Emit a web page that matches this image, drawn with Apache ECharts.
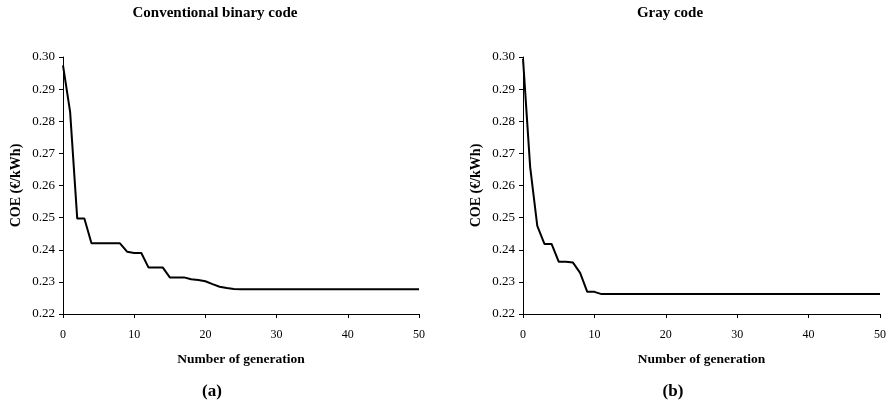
<!DOCTYPE html>
<html><head><meta charset="utf-8">
<script src="https://cdn.jsdelivr.net/npm/echarts@6/dist/echarts.min.js"></script>
<style>html,body{margin:0;padding:0;background:#fff}#c{width:889px;height:407px}</style>
</head><body><div id="c"></div>
<script>
var generations = [];
for (var g = 0; g <= 50; g++) generations.push(g);
var binaryCOE = [0.2974,0.2829,0.2497,0.2497,0.2420,0.2420,0.2420,0.2420,0.2420,0.2394,
  0.2390,0.2390,0.2345,0.2345,0.2345,0.2314,0.2314,0.2314,0.2308,0.2306,
  0.2302,0.2293,0.2285,0.2281,0.2278,0.2277,0.2277,0.2277,0.2277,0.2277,
  0.2277,0.2277,0.2277,0.2277,0.2277,0.2277,0.2277,0.2277,0.2277,0.2277,
  0.2277,0.2277,0.2277,0.2277,0.2277,0.2277,0.2277,0.2277,0.2277,0.2277,0.2277];
var grayCOE = [0.2995,0.2658,0.2474,0.2418,0.2418,0.2363,0.2363,0.2360,0.2328,0.2269,
  0.2269,0.2262,0.2262,0.2262,0.2262,0.2262,0.2262,0.2262,0.2262,0.2262,
  0.2262,0.2262,0.2262,0.2262,0.2262,0.2262,0.2262,0.2262,0.2262,0.2262,
  0.2262,0.2262,0.2262,0.2262,0.2262,0.2262,0.2262,0.2262,0.2262,0.2262,
  0.2262,0.2262,0.2262,0.2262,0.2262,0.2262,0.2262,0.2262,0.2262,0.2262,0.2262];
var chartTitles = ['Conventional binary code', 'Gray code'];
var subLabels = ['(a)', '(b)'];
var xName = 'Number of generation';
var yName = 'COE (\u20ac/kWh)';

var font = '"Liberation Serif","Times New Roman",serif';
function pairs(ys){ return generations.map(function(x,i){ return [x, ys[i]]; }); }
function xAxis(idx){
  return { type:'value', gridIndex:idx, min:0, max:50, interval:10,
    name:xName, nameLocation:'middle', nameGap:39,
    nameTextStyle:{fontFamily:font, fontWeight:'bold', fontSize:13.5, color:'#000'},
    axisLine:{lineStyle:{color:'#000', width:1}},
    axisTick:{show:true, length:4, lineStyle:{color:'#000'}},
    axisLabel:{fontFamily:font, fontSize:12, color:'#000', margin:15},
    splitLine:{show:false} };
}
function yAxis(idx){
  return { type:'value', gridIndex:idx, min:0.22, max:0.30, interval:0.01,
    name:yName, nameLocation:'middle', nameGap:40,
    nameTextStyle:{fontFamily:font, fontWeight:'bold', fontSize:14, color:'#000'},
    axisLine:{show:true, lineStyle:{color:'#000', width:1}},
    axisTick:{show:true, length:4, lineStyle:{color:'#000'}},
    axisLabel:{fontFamily:font, fontSize:13, color:'#000', margin:8,
      formatter:function(v){ return v.toFixed(2); }},
    splitLine:{show:false} };
}
var chart = echarts.init(document.getElementById('c'), null, {renderer:'canvas'});
chart.setOption({
  animation:false,
  backgroundColor:'#fff',
  title:[
    {text:chartTitles[0], left:215, top:6, padding:0, textAlign:'center', textStyle:{fontFamily:font, fontWeight:'bold', fontSize:15, color:'#000'}},
    {text:chartTitles[1], left:670, top:6, padding:0, textAlign:'center', textStyle:{fontFamily:font, fontWeight:'bold', fontSize:15, color:'#000'}},
    {text:subLabels[0], left:212, top:383, padding:0, textAlign:'center', textStyle:{fontFamily:font, fontWeight:'bold', fontSize:17, color:'#000'}},
    {text:subLabels[1], left:673, top:383, padding:0, textAlign:'center', textStyle:{fontFamily:font, fontWeight:'bold', fontSize:17, color:'#000'}}
  ],
  grid:[
    {left:63, top:57, width:356, height:257},
    {left:523, top:57, width:357, height:257}
  ],
  xAxis:[xAxis(0), xAxis(1)],
  yAxis:[yAxis(0), yAxis(1)],
  series:[
    {type:'line', xAxisIndex:0, yAxisIndex:0, data:pairs(binaryCOE), showSymbol:false, lineStyle:{color:'#000', width:2}},
    {type:'line', xAxisIndex:1, yAxisIndex:1, data:pairs(grayCOE), showSymbol:false, lineStyle:{color:'#000', width:2}}
  ]
});
</script></body></html>
